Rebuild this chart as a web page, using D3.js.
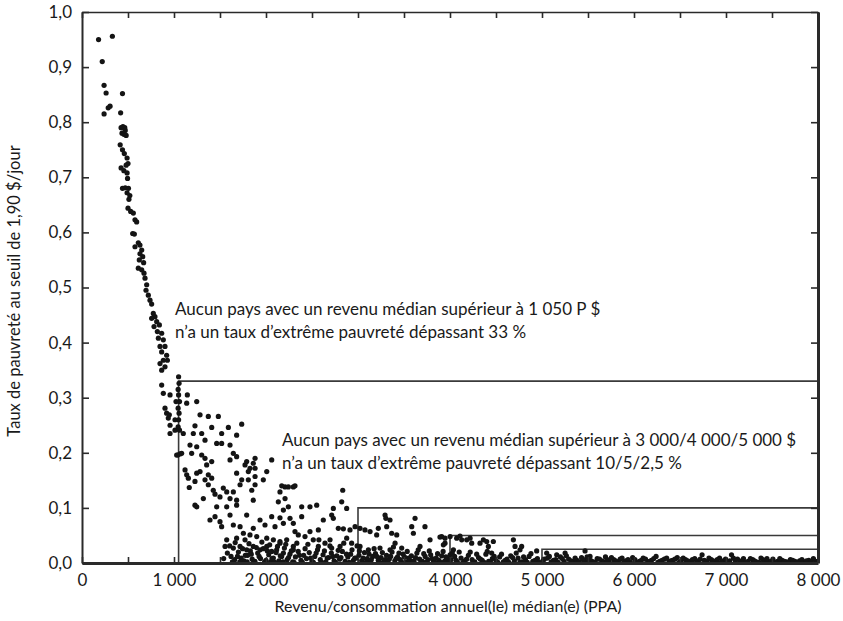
<!DOCTYPE html>
<html>
<head>
<meta charset="utf-8">
<script src="https://cdn.jsdelivr.net/npm/d3@7"></script>
<style>
  body { margin: 0; background: #fff; }
  svg text { font-family: Lato, "Open Sans", sans-serif; fill: #1a1a1a; }
</style>
</head>
<body>
<svg id="chart" width="843" height="621"></svg>
<script>
// ----- Data (income in PPP $, poverty rate as share) -----
var steepPoints = [
  [180,0.950],[330,0.956],[220,0.910],[240,0.867],[262,0.853],[440,0.852],[285,0.826],[305,0.829],[240,0.815],[420,0.817],
  [425,0.790],[445,0.792],[465,0.790],[435,0.780],[455,0.778],[480,0.776],[470,0.785],[415,0.759],[440,0.750],[460,0.743],
  [490,0.735],[500,0.725],[480,0.722],[425,0.717],[455,0.712],[490,0.708],[495,0.698],[440,0.680],[470,0.681],[505,0.680],
  [520,0.667],[490,0.672],[510,0.660],[500,0.644],[529,0.638],[558,0.635],[576,0.623],[594,0.619],[551,0.598],[569,0.597],
  [612,0.581],[630,0.577],[576,0.574],[649,0.568],[630,0.561],[660,0.556],[623,0.550],[670,0.545],[612,0.535],[649,0.532],
  [674,0.526],[685,0.517],[703,0.505],[696,0.495],[721,0.486],[739,0.477],[757,0.470],[775,0.453],[793,0.447],[757,0.444],
  [812,0.438],[783,0.429],[841,0.432],[819,0.420],[866,0.417],[830,0.408],[884,0.405],[848,0.393],[902,0.393],[866,0.383],
  [920,0.377],[884,0.368],[928,0.368],[848,0.362],[902,0.356],[866,0.350]
];

var upperPoints = [
  [1050,0.338],[1055,0.326],[1045,0.315],[1050,0.305],[1060,0.293],[1045,0.281],[1055,0.272],[1050,0.260],[1045,0.247],[1060,0.241],
  [1040,0.196],[1065,0.198],[866,0.323],[884,0.308],[957,0.305],[902,0.281],[920,0.272],[938,0.263],[1011,0.260],[957,0.250],
  [1011,0.241],[957,0.235],[1029,0.196],[949,0.269],[1022,0.293],[1145,0.305],[1247,0.293],[1138,0.290],[1283,0.269],[1373,0.266],
  [1482,0.266],[1228,0.249],[1410,0.246],[1591,0.246],[1736,0.252],[1101,0.235],[1210,0.235],[1301,0.235],[1337,0.223],[1518,0.235],
  [1681,0.232],[1464,0.217],[1518,0.217],[1609,0.214],[1174,0.214],[1247,0.211],[1083,0.199],[1192,0.199],[1301,0.196],[1337,0.190]
];

var midPoints = [
  [1645,0.199],[1681,0.193],[1410,0.184],[1609,0.187],[1790,0.184],[1862,0.181],[1881,0.190],[1772,0.178],[1355,0.178],[1826,0.172],
  [1881,0.172],[2062,0.187],[1120,0.169],[1138,0.160],[1156,0.154],[1247,0.163],[1283,0.166],[1373,0.160],[1410,0.154],[1337,0.151],
  [1228,0.148],[1166,0.137],[1373,0.142],[1681,0.163],[1808,0.166],[1736,0.151],[1808,0.151],[1881,0.157],[2008,0.166],[1971,0.151],
  [1536,0.136],[1573,0.129],[1645,0.129],[1427,0.132],[1446,0.125],[1319,0.117],[1500,0.120],[1609,0.117],[1681,0.114],[1845,0.132],
  [1881,0.142],[1718,0.142],[1228,0.105],[1247,0.102],[1464,0.102],[1573,0.102],[1681,0.105],[1862,0.114],[2152,0.129],[2207,0.138],
  [2297,0.138],[2207,0.117],[2134,0.111],[2243,0.102],[2171,0.140],[2243,0.138],[2315,0.140],[2834,0.132],[2388,0.102],[2478,0.102],
  [2551,0.105],[2732,0.099],[2823,0.111],[2877,0.099],[2189,0.096]
];

var lowPoints = [
  [1391,0.078],[1446,0.084],[1500,0.075],[1609,0.087],[1790,0.087],[1935,0.078],[2062,0.084],[2152,0.082],[2261,0.081],[1518,0.066],
  [1645,0.069],[1718,0.066],[1862,0.063],[1989,0.069],[2098,0.066],[2189,0.072],[2315,0.057],[1754,0.054],[1826,0.051],[1573,0.042],
  [1681,0.045],[1772,0.042],[1899,0.048],[2008,0.045],[2080,0.042],[2152,0.039],[2225,0.042],[1555,0.030],[1645,0.027],[1718,0.030],
  [1790,0.024],[1862,0.030],[1935,0.024],[2008,0.030],[2062,0.021],[2116,0.024],[2189,0.018],[2297,0.024],[2623,0.078],[2714,0.087],
  [2732,0.081],[2388,0.084],[2297,0.072],[2478,0.057],[2569,0.060],[2786,0.063],[2841,0.062],[2913,0.060],[2968,0.066],[2351,0.051],
  [2424,0.048],[2514,0.042],[2641,0.036],[2696,0.042],[2877,0.045],[2931,0.036],[2152,0.036],[2297,0.030],[2569,0.030],[2714,0.027],
  [2805,0.030],[3022,0.063],[3076,0.060],[3131,0.057],[3203,0.051],[3294,0.087],[3303,0.081],[3348,0.078],[3221,0.063],[3312,0.066],
  [3366,0.054],[3421,0.051],[3403,0.036],[3022,0.030],[3113,0.024],[3239,0.027],[3584,0.066],[3602,0.054],[3620,0.081],[3728,0.066],
  [3783,0.042],[3910,0.048],[3946,0.036],[3674,0.030],[3475,0.027],[3348,0.024],[3891,0.047],[3946,0.045],[4073,0.045],[3928,0.033],
  [4127,0.042],[4218,0.045],[4236,0.036],[4326,0.036],[4363,0.042],[4417,0.030],[4471,0.039],[4453,0.018],[4689,0.042],[4707,0.030],
  [4761,0.024],[4942,0.022],[5051,0.018],[5160,0.015],[5251,0.018],[5468,0.022],[5522,0.012],[4001,0.048],[4109,0.049],[4182,0.042],
  [4399,0.039],[4779,0.030],[4037,0.024],[4001,0.015]
];

var floorPoints = [
  [1620,0.012],[1660,0.006],[1700,0.020],[1730,0.009],[1760,0.004],[1800,0.014],[1830,0.022],[1850,0.007],[1880,0.003],[1910,0.018],
  [1940,0.008],[1970,0.026],[2000,0.005],[2030,0.015],[2050,0.002],[2080,0.009],[2110,0.019],[2140,0.004],[2170,0.012],[2200,0.027],
  [2230,0.006],[2260,0.016],[2290,0.002],[2320,0.011],[2350,0.021],[2380,0.005],[2410,0.014],[2440,0.008],[2470,0.019],[2500,0.003],
  [2530,0.012],[2560,0.024],[2590,0.006],[2620,0.015],[2650,0.002],[2680,0.010],[2710,0.018],[2740,0.004],[2770,0.013],[2800,0.007],
  [2830,0.021],[2860,0.003],[2890,0.011],[2920,0.016],[2950,0.005],[2980,0.009],[3010,0.014],[3040,0.004],[3070,0.019],[3100,0.008],
  [3130,0.002],[3160,0.012],[3190,0.017],[3220,0.005],[3250,0.010],[3280,0.003],[3310,0.014],[3340,0.007],[3370,0.020],[3400,0.004],
  [3430,0.011],[3460,0.006],[3490,0.016],[3520,0.002],[3550,0.009],[3580,0.013],[3610,0.004],[3640,0.018],[3670,0.007],[3700,0.003],
  [3730,0.012],[3760,0.006],[3790,0.015],[3820,0.002],[3850,0.009],[3880,0.005],[3910,0.013],[3940,0.003],[3970,0.008],[4010,0.006],
  [4050,0.012],[4080,0.002],[4120,0.009],[4160,0.004],[4200,0.014],[4240,0.006],[4270,0.002],[4310,0.010],[4350,0.005],[4390,0.016],
  [4420,0.003],[4460,0.008],[4500,0.004],[4540,0.011],[4580,0.002],[4620,0.007],[4660,0.013],[4700,0.004],[4740,0.009],[4780,0.002],
  [4820,0.006],[4860,0.012],[4900,0.003],[4950,0.008],[5010,0.004],[5060,0.009],[5100,0.002],[5150,0.006],[5200,0.011],[5240,0.003],
  [5290,0.007],[5340,0.002],[5380,0.005],[5430,0.010],[5470,0.003],[5510,0.006],[5560,0.002],[5600,0.008],[5650,0.004],[5690,0.011],
  [5730,0.003],[5780,0.006],[5830,0.002],[5870,0.009],[5910,0.004],[5960,0.002],[6010,0.006],[6060,0.003],[6100,0.009],[6150,0.002],
  [6190,0.005],[6240,0.012],[6280,0.003],[6330,0.007],[6380,0.002],[6420,0.005],[6470,0.010],[6510,0.003],[6560,0.006],[6610,0.002],
  [6660,0.008],[6700,0.004],[6740,0.015],[6790,0.003],[6840,0.006],[6880,0.002],[6930,0.009],[6970,0.004],[7020,0.002],[7060,0.015],
  [7100,0.005],[7150,0.002],[7190,0.008],[7240,0.003],[7290,0.006],[7330,0.002],[7380,0.009],[7420,0.004],[7470,0.002],[7510,0.007],
  [7560,0.003],[7610,0.005],[7660,0.002],[7700,0.006],[7750,0.003],[7800,0.004],[7850,0.002],[7900,0.005],[7950,0.008]
];

var bandPointsLow = [
  [1540,0.008],[1580,0.018],[1605,0.031],[1635,0.002],[1665,0.037],[1690,0.012],[1715,0.002],[1745,0.026],[1775,0.014],[1795,0.002],
  [1815,0.035],[1840,0.016],[1865,0.001],[1895,0.028],[1925,0.012],[1955,0.038],[1985,0.002],[2015,0.022],[2040,0.033],[2065,0.008],
  [2095,0.001],[2125,0.030],[2155,0.013],[2185,0.002],[2215,0.034],[2245,0.010],[2275,0.022],[2305,0.001],[2335,0.036],[2365,0.014],
  [2395,0.001],[2425,0.026],[2455,0.034],[2485,0.009],[2515,0.001],[2545,0.018],[2575,0.042],[2605,0.001],[2635,0.022],[2665,0.009],
  [2695,0.031],[2725,0.012],[2755,0.001],[2785,0.023],[2815,0.010],[2845,0.036],[2875,0.016],[2905,0.001],[2935,0.024],[2965,0.009],
  [2990,0.031]
];

var bandPointsMid = [
  [3015,0.022],[3055,0.009],[3085,0.001],[3120,0.016],[3145,0.006],[3175,0.026],[3205,0.012],[3235,0.001],[3265,0.019],[3295,0.006],
  [3325,0.001],[3355,0.012],[3385,0.029],[3415,0.008],[3445,0.018],[3475,0.001],[3505,0.011],[3535,0.021],[3565,0.005],[3595,0.001],
  [3625,0.010],[3655,0.024],[3685,0.001],[3715,0.017],[3745,0.002],[3775,0.022],[3805,0.008],[3835,0.001],[3865,0.017],[3895,0.001],
  [3925,0.021],[3955,0.011],[3985,0.001],[4025,0.018],[4065,0.005],[4100,0.020],[4140,0.001],[4180,0.007],[4220,0.020],[4255,0.001],
  [4290,0.016],[4330,0.007],[4370,0.001],[4405,0.021],[4440,0.001],[4480,0.012],[4520,0.001],[4560,0.016],[4600,0.005],[4640,0.001],
  [4680,0.010],[4720,0.018],[4760,0.001],[4800,0.011],[4840,0.001],[4880,0.017],[4925,0.005],[4970,0.001]
];

var bandPointsHigh = [
  [5025,0.007],[5080,0.012],[5125,0.005],[5175,0.001],[5220,0.008],[5265,0.013],[5315,0.004],[5360,0.009],[5405,0.002],[5450,0.006],
  [5490,0.011],[5535,0.004],[5580,0.001],[5625,0.007],[5670,0.002],[5710,0.006],[5755,0.010],[5800,0.004],[5850,0.007],[5890,0.001],
  [5935,0.006],[5985,0.010],[6035,0.001],[6080,0.005],[6125,0.007],[6170,0.003],[6215,0.008],[6260,0.001],[6305,0.005],[6355,0.009],
  [6400,0.004],[6445,0.007],[6490,0.001],[6535,0.009],[6585,0.004],[6635,0.006],[6680,0.001],[6720,0.007],[6765,0.005],[6815,0.009],
  [6860,0.004],[6905,0.006],[6950,0.001],[6995,0.007],[7040,0.004],[7080,0.009],[7125,0.007],[7170,0.004],[7215,0.001],[7265,0.008],
  [7310,0.004],[7355,0.001],[7400,0.006],[7445,0.008],[7490,0.003],[7535,0.001],[7585,0.008],[7635,0.003],[7680,0.001],[7725,0.005],
  [7775,0.001],[7825,0.006],[7875,0.004],[7925,0.001],[7975,0.003]
];

// thresholds drawn as open boxes: income floor and poverty ceiling
var thresholdIncome = [1050, 3000, 4000, 5000];
var thresholdRate = [0.33, 0.10, 0.05, 0.025];

var yTicks = [0, 0.1, 0.2, 0.3, 0.4, 0.5, 0.6, 0.7, 0.8, 0.9, 1.0];
var xTicks = [0, 500, 1000, 1500, 2000, 2500, 3000, 3500, 4000, 4500, 5000, 5500, 6000, 6500, 7000, 7500, 8000];

var note1 = ["Aucun pays avec un revenu médian supérieur à 1 050 P $",
             "n’a un taux d’extrême pauvreté dépassant 33 %"];
var note2 = ["Aucun pays avec un revenu médian supérieur à 3 000/4 000/5 000 $",
             "n’a un taux d’extrême pauvreté dépassant 10/5/2,5 %"];

var xTitle = "Revenu/consommation annuel(le) médian(e) (PPA)";
var yTitle = "Taux de pauvreté au seuil de 1,90 $/jour";

/***** Layout *****/
var margin = {top: 12, right: 25, bottom: 58, left: 82};
var width = 843 - margin.left - margin.right;
var height = 621 - margin.top - margin.bottom;

var fr = d3.formatLocale({decimal: ",", thousands: " ", grouping: [3], currency: ["", " $"]});
var fmtY = fr.format(".1f");
var fmtX = fr.format(",d");

var svg = d3.select("#chart");
var g = svg.append("g").attr("transform", "translate(" + margin.left + "," + margin.top + ")");

var x = d3.scaleLinear().domain([0, 8000]).range([0, width]);
var y = d3.scaleLinear().domain([0, 1]).range([height, 0]);

// threshold boxes
thresholdIncome.forEach(function (inc, i) {
  var r = thresholdRate[i];
  g.append("path")
    .attr("d", "M" + x(inc) + "," + y(0) + "V" + y(r) + "H" + x(8000))
    .attr("fill", "none")
    .attr("stroke", "#3a3a3a")
    .attr("stroke-width", 1.6);
});

// points
var allPoints = steepPoints.concat(upperPoints, midPoints, lowPoints, floorPoints,
                                   bandPointsLow, bandPointsMid, bandPointsHigh);
g.append("g").selectAll("circle")
  .data(allPoints)
  .enter().append("circle")
  .attr("cx", function (d) { return x(d[0]); })
  .attr("cy", function (d) { return y(d[1]); })
  .attr("r", 2.6)
  .attr("fill", "#141414");

// axes
function styleAxis(sel, w) {
  sel.select(".domain").attr("stroke", "#2a2a2a").attr("stroke-width", w);
  sel.selectAll(".tick line").attr("stroke", "#2a2a2a").attr("stroke-width", 1.6);
  sel.selectAll(".tick text").style("font-size", "17px").attr("fill", "#1a1a1a");
}

var yAxis = g.append("g")
  .call(d3.axisLeft(y).tickValues(yTicks).tickSize(-7).tickSizeOuter(0).tickPadding(10).tickFormat(fmtY));
styleAxis(yAxis, 2);

var yAxisR = g.append("g").attr("transform", "translate(" + width + ",0)")
  .call(d3.axisRight(y).tickValues(yTicks).tickSize(-7).tickSizeOuter(0).tickFormat(""));
styleAxis(yAxisR, 3);

var xAxisTop = g.append("g")
  .call(d3.axisTop(x).tickValues(xTicks).tickSize(-6).tickSizeOuter(0).tickFormat(""));
styleAxis(xAxisTop, 1.6);

var xAxis = g.append("g").attr("transform", "translate(0," + height + ")")
  .call(d3.axisBottom(x).tickValues(xTicks).tickSize(-6).tickSizeOuter(0).tickPadding(11)
    .tickFormat(function (d) { return d % 1000 === 0 ? fmtX(d) : ""; }));
styleAxis(xAxis, 3);
xAxis.selectAll(".tick text").attr("dy", "0.71em");

// axis titles
svg.append("text")
  .attr("x", margin.left + width / 2 - 2)
  .attr("y", 612)
  .attr("text-anchor", "middle")
  .style("font-size", "16px")
  .text(xTitle);

svg.append("text")
  .attr("transform", "translate(20," + 291 + ") rotate(-90)")
  .attr("text-anchor", "middle")
  .style("font-size", "16.5px")
  .text(yTitle);

// annotations
function addNote(lines, px, py) {
  var t = svg.append("text").style("font-size", "17px");
  lines.forEach(function (line, i) {
    t.append("tspan").attr("x", px).attr("y", py + i * 23).text(line);
  });
}
addNote(note1, 175, 315);
addNote(note2, 282, 446);
</script>
</body>
</html>
